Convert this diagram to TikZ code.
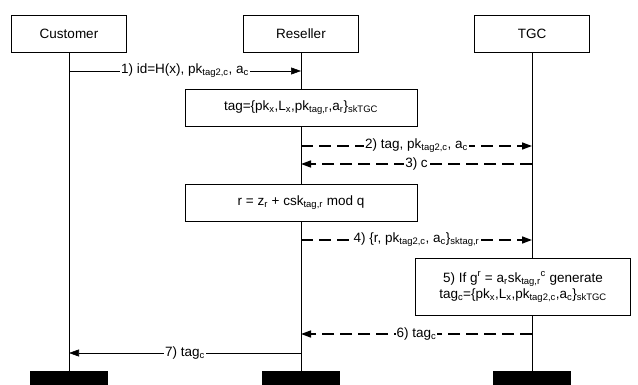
\documentclass[tikz,border=0pt]{standalone}
\usepackage{fontspec}
\setmainfont{Liberation Sans}
\usetikzlibrary{arrows.meta,positioning}
\newcommand{\sub}[1]{\textsubscript{#1}}
\newcommand{\sups}[1]{\textsuperscript{#1}}

\begin{document}
\begin{tikzpicture}[x=1pt,y=-1pt,font=\fontsize{13.5}{16}\selectfont,
  actor/.style={draw,minimum width=115pt,minimum height=37pt,inner sep=0pt},
  foot/.style={fill=black,minimum width=78pt,minimum height=14pt,inner sep=0pt},
  calc/.style={draw,fill=white,minimum width=232pt,minimum height=37pt,inner sep=2pt},
  msg/.style={-{Triangle[length=10pt,width=7pt]},line width=0.6pt},
  dmsg/.style={msg,line width=1.5pt,dash pattern=on 12pt off 6pt},
  lbl/.style={fill=white,inner sep=1pt}]
  \useasboundingbox (0,0) rectangle (638,385);
  % actors and lifelines
  \foreach \n/\lab/\x in {cu/Customer/69,re/Reseller/301,tg/TGC/532} {
    \node[actor] (h\n) at (\x,33.5) {\lab};
    \node[foot] (f\n) at (\x,378) {};
    \draw[line width=0.6pt] (h\n) -- (f\n);
  }
  % message ends on the lifelines
  \foreach \m/\y in {1/71,2/146,3/164,4/240,6/334,7/353}
    \foreach \n/\x in {cu/69,re/301,tg/532}
      \coordinate (\n\m) at (\x,\y);
  % computation boxes
  \node[calc] (tagbox) at (301,108) {tag=\{pk\sub{x},L\sub{x},pk\sub{tag,r},a\sub{r}\}\sub{skTGC}};
  \node[calc] (rbox) at (301,203) {r = z\sub{r} + csk\sub{tag,r} mod q};
  \node[calc,align=center,minimum width=215pt,minimum height=57pt] (chk) at (523,287)
    {5) If g\sups{r} = a\sub{r}sk\sub{tag,r}\sups{c} generate\\
     tag\sub{c}=\{pk\sub{x},L\sub{x},pk\sub{tag2,c},a\sub{c}\}\sub{skTGC}};
  % messages
  \draw[msg] (cu1) -- node[lbl] {1) id=H(x), pk\sub{tag2,c}, a\sub{c}} (re1);
  \draw[dmsg] (re2) -- node[lbl] {2) tag, pk\sub{tag2,c}, a\sub{c}} (tg2);
  \draw[dmsg] (tg3) -- node[lbl] {3) c} (re3);
  \draw[dmsg] (re4) -- node[lbl] {4) \{r, pk\sub{tag2,c}, a\sub{c}\}\sub{sktag,r}} (tg4);
  \draw[dmsg] (tg6) -- node[lbl] {6) tag\sub{c}} (re6);
  \draw[msg] (re7) -- node[lbl] {7) tag\sub{c}} (cu7);
\end{tikzpicture}
\end{document}
